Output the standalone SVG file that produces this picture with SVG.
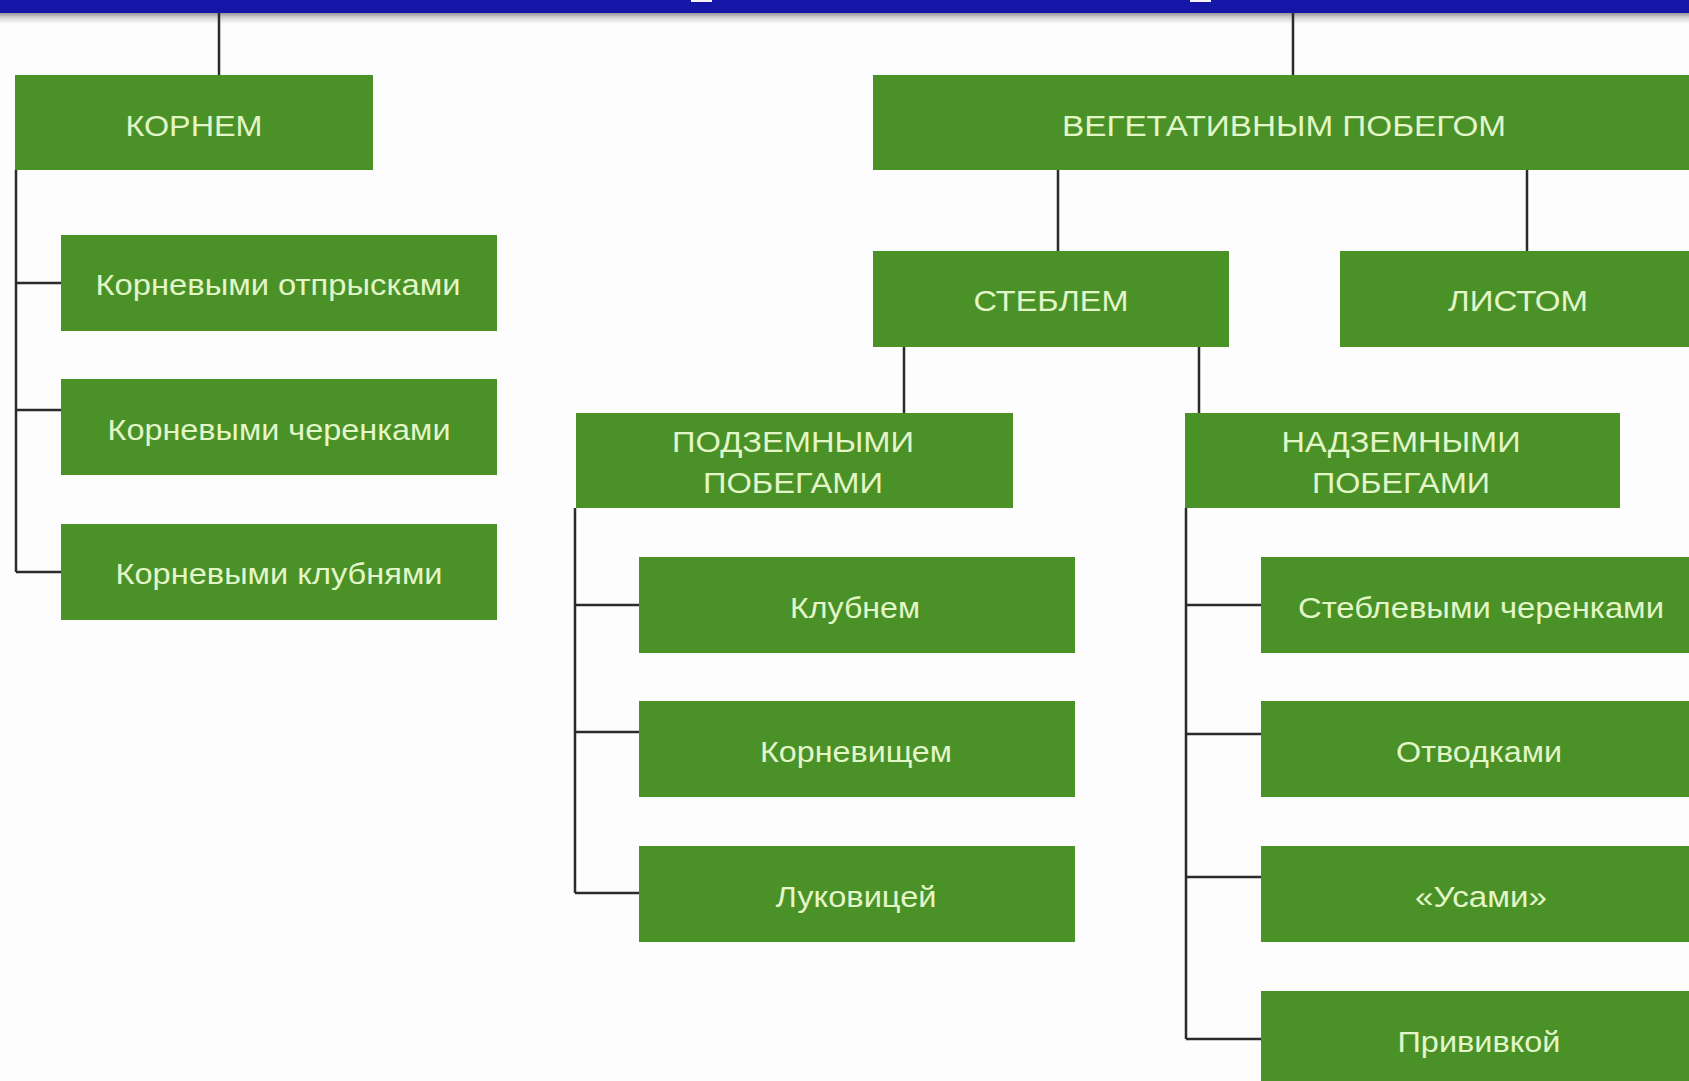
<svg xmlns="http://www.w3.org/2000/svg" width="1689" height="1081" viewBox="0 0 1689 1081">
<defs>
<linearGradient id="shadow" x1="0" y1="0" x2="0" y2="1">
<stop offset="0" stop-color="#8a8a8a"/>
<stop offset="0.5" stop-color="#d8d8d8"/>
<stop offset="1" stop-color="#fdfdfd"/>
</linearGradient>
</defs>
<style>
.box{fill:#4a9128;}
.t{font-family:"Liberation Sans",Arial,sans-serif;font-size:30px;fill:#e2f6c8;text-anchor:middle;}
.c{stroke:#2b2b2b;stroke-width:2.5;fill:none;}
</style>
<rect x="0" y="0" width="1689" height="1081" fill="#fdfdfd"/>
<rect x="0" y="12" width="1689" height="12" fill="url(#shadow)"/>
<rect x="0" y="0" width="1689" height="13" fill="#1515a8"/>
<rect x="691" y="0" width="21" height="2" fill="#f4f4ff"/>
<rect x="1190" y="0" width="21" height="2" fill="#f4f4ff"/>

<g id="connectors">
<path class="c" d="M219 13V75"/>
<path class="c" d="M1293 13V75"/>
<path class="c" d="M16 170V572M16 283H61M16 410H61M16 572H61"/>
<path class="c" d="M1058 170V251M1527 170V251"/>
<path class="c" d="M904 347V413M1199 347V413"/>
<path class="c" d="M575 508V893M575 605H639M575 732H639M575 893H639"/>
<path class="c" d="M1186 508V1039M1186 605H1261M1186 734H1261M1186 877H1261M1186 1039H1261"/>
</g>

<g id="n-kornem"><rect class="box" x="15" y="75" width="358" height="95"/><text class="t" x="194" y="136" textLength="137" lengthAdjust="spacingAndGlyphs">КОРНЕМ</text></g>
<g id="n-veg"><rect class="box" x="873" y="75" width="822" height="95"/><text class="t" x="1284" y="136" textLength="444" lengthAdjust="spacingAndGlyphs">ВЕГЕТАТИВНЫМ ПОБЕГОМ</text></g>

<g id="n-otpr"><rect class="box" x="61" y="235" width="436" height="96"/><text class="t" x="278" y="295" textLength="365" lengthAdjust="spacingAndGlyphs">Корневыми отпрысками</text></g>
<g id="n-cher"><rect class="box" x="61" y="379" width="436" height="96"/><text class="t" x="279" y="440" textLength="343" lengthAdjust="spacingAndGlyphs">Корневыми черенками</text></g>
<g id="n-klub"><rect class="box" x="61" y="524" width="436" height="96"/><text class="t" x="279" y="584" textLength="327" lengthAdjust="spacingAndGlyphs">Корневыми клубнями</text></g>

<g id="n-stebl"><rect class="box" x="873" y="251" width="356" height="96"/><text class="t" x="1051" y="311" textLength="155" lengthAdjust="spacingAndGlyphs">СТЕБЛЕМ</text></g>
<g id="n-list"><rect class="box" x="1340" y="251" width="356" height="96"/><text class="t" x="1518" y="311" textLength="140" lengthAdjust="spacingAndGlyphs">ЛИСТОМ</text></g>

<g id="n-podz"><rect class="box" x="576" y="413" width="437" height="95"/><text class="t" x="793" y="452" textLength="242" lengthAdjust="spacingAndGlyphs">ПОДЗЕМНЫМИ</text><text class="t" x="793" y="493" textLength="180" lengthAdjust="spacingAndGlyphs">ПОБЕГАМИ</text></g>
<g id="n-nadz"><rect class="box" x="1185" y="413" width="435" height="95"/><text class="t" x="1401" y="452" textLength="239" lengthAdjust="spacingAndGlyphs">НАДЗЕМНЫМИ</text><text class="t" x="1401" y="493" textLength="178" lengthAdjust="spacingAndGlyphs">ПОБЕГАМИ</text></g>

<g id="n-klubnem"><rect class="box" x="639" y="557" width="436" height="96"/><text class="t" x="855" y="618" textLength="130" lengthAdjust="spacingAndGlyphs">Клубнем</text></g>
<g id="n-kornev"><rect class="box" x="639" y="701" width="436" height="96"/><text class="t" x="856" y="762" textLength="192" lengthAdjust="spacingAndGlyphs">Корневищем</text></g>
<g id="n-lukov"><rect class="box" x="639" y="846" width="436" height="96"/><text class="t" x="856" y="907" textLength="161" lengthAdjust="spacingAndGlyphs">Луковицей</text></g>

<g id="n-stcher"><rect class="box" x="1261" y="557" width="436" height="96"/><text class="t" x="1481" y="618" textLength="366" lengthAdjust="spacingAndGlyphs">Стеблевыми черенками</text></g>
<g id="n-otvod"><rect class="box" x="1261" y="701" width="436" height="96"/><text class="t" x="1479" y="762" textLength="166" lengthAdjust="spacingAndGlyphs">Отводками</text></g>
<g id="n-usami"><rect class="box" x="1261" y="846" width="436" height="96"/><text class="t" x="1481" y="907" textLength="132" lengthAdjust="spacingAndGlyphs">«Усами»</text></g>
<g id="n-priv"><rect class="box" x="1261" y="991" width="436" height="96"/><text class="t" x="1479" y="1052" textLength="163" lengthAdjust="spacingAndGlyphs">Прививкой</text></g>
</svg>
